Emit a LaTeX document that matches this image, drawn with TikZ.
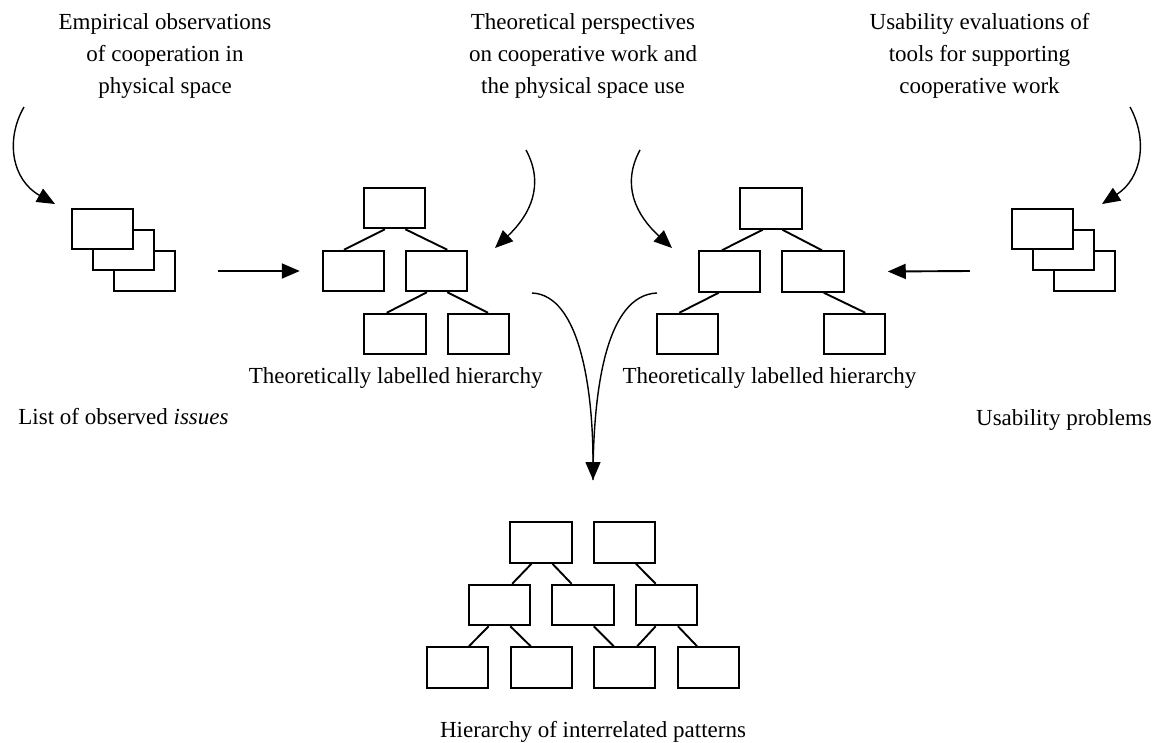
\documentclass[tikz,border=0pt]{standalone}
\usepackage{fontspec}
\setmainfont{Liberation Serif}
\usetikzlibrary{arrows.meta,calc}
\newcommand{\hlink}[4]{\draw[link] ($(#1.south west)!#2!(#1.south east)$) -- ($(#3.north west)!#4!(#3.north east)$);}
\begin{document}
\begin{tikzpicture}[x=1pt,y=-1pt,
  box/.style={draw,line width=2pt,fill=white,minimum width=61.5pt,minimum height=40.5pt,inner sep=0pt},
  link/.style={line width=1.9pt},
  arr/.style={line width=1.9pt,-{Triangle[length=18pt,width=15pt]}},
  carr/.style={line width=1.4pt,-{Triangle[length=18pt,width=15pt]}},
  cline/.style={line width=1.4pt},
  lbl/.style={font=\fontsize{23}{32}\selectfont,inner sep=0pt,anchor=base,align=center}]
\useasboundingbox (0,0) rectangle (1161,742);

% texts (base anchor = baseline of last line)
\node[lbl] (t1) at (165,93) {Empirical observations\\of cooperation in\\physical space};
\node[lbl] (t2) at (583,93) {Theoretical perspectives\\on cooperative work and\\the physical space use};
\node[lbl] (t3) at (979.5,93) {Usability evaluations of\\tools for supporting\\cooperative work};
\node[lbl] (l1) at (395.7,383) {Theoretically labelled hierarchy};
\node[lbl] (l2) at (769.5,383) {Theoretically labelled hierarchy};
\node[lbl] (l3) at (123.5,424) {List of observed \textit{issues}};
\node[lbl] (l4) at (1064,425) {Usability problems};
\node[lbl] (l5) at (593,737) {Hierarchy of interrelated patterns};

% left stack
\node[box] (s3) at (144.5,271) {};
\node[box] (s2) at (123.5,250) {};
\node[box] (s1) at (102.5,229) {};
% right stack
\node[box] (r3) at (1084.5,271) {};
\node[box] (r2) at (1063.5,250) {};
\node[box] (r1) at (1042.5,229) {};

% hierarchy 1
\node[box] (a0) at (394.5,208) {};
\node[box] (a1) at (353.5,271) {};
\node[box] (a2) at (436.5,271) {};
\node[box] (a3) at (395,334) {};
\node[box] (a4) at (478.5,334) {};
\hlink{a0}{0.35}{a1}{0.35}
\hlink{a0}{0.67}{a2}{0.67}
\hlink{a2}{0.35}{a3}{0.37}
\hlink{a2}{0.67}{a4}{0.65}

% hierarchy 2
\node[box] (b0) at (771,208.5) {};
\node[box] (b1) at (729.5,271.5) {};
\node[box] (b2) at (813,271.5) {};
\node[box] (b3) at (687.5,334) {};
\node[box] (b4) at (854.5,334) {};
\hlink{b0}{0.37}{b1}{0.38}
\hlink{b0}{0.68}{b2}{0.64}
\hlink{b1}{0.33}{b3}{0.37}
\hlink{b2}{0.67}{b4}{0.67}

% bottom hierarchy
\node[box] (c1) at (541,542.5) {};
\node[box] (c2) at (624.5,542.5) {};
\node[box] (m1) at (499.5,605) {};
\node[box] (m2) at (583,605) {};
\node[box] (m3) at (666.5,605) {};
\node[box] (d1) at (457.5,667.5) {};
\node[box] (d2) at (541.5,667.5) {};
\node[box] (d3) at (624.5,667.5) {};
\node[box] (d4) at (708.5,667.5) {};
\hlink{c1}{0.35}{m1}{0.70}
\hlink{c1}{0.68}{m2}{0.32}
\hlink{c2}{0.68}{m3}{0.33}
\hlink{m1}{0.33}{d1}{0.68}
\hlink{m1}{0.67}{d2}{0.33}
\hlink{m2}{0.67}{d3}{0.33}
\hlink{m3}{0.33}{d3}{0.70}
\hlink{m3}{0.68}{d4}{0.32}

% straight arrows
\draw[arr] ([xshift=42pt]s3.east) -- ([xshift=-22pt]a1.west);
\draw[arr] ([xshift=-83pt]r3.west) -- ([xshift=43pt]b2.east);

% curved arrows
\coordinate (p1) at (24,107);
\coordinate (q1) at (55,204);
\draw[carr] (p1) .. controls (5,140) and (12,180) .. (q1);
\coordinate (p2) at (526,150);
\coordinate (q2) at (495,248);
\draw[carr] (p2) .. controls (545,185) and (530,215) .. (q2);
\coordinate (p3) at (640,150);
\coordinate (q3) at (672,248);
\draw[carr] (p3) .. controls (621,185) and (636,215) .. (q3);
\coordinate (p4) at (1130,107);
\coordinate (q4) at (1102,204);
\draw[carr] (p4) .. controls (1148,140) and (1142,178) .. (q4);

% converging arrow
\coordinate (u1) at (532,293);
\coordinate (u2) at (657,293);
\coordinate (v) at (593,480);
\draw[cline] (u2) .. controls (606,295) and (593,390) .. (v);
\draw[carr] (u1) .. controls (580,295) and (593,390) .. (v);
\end{tikzpicture}
\end{document}
